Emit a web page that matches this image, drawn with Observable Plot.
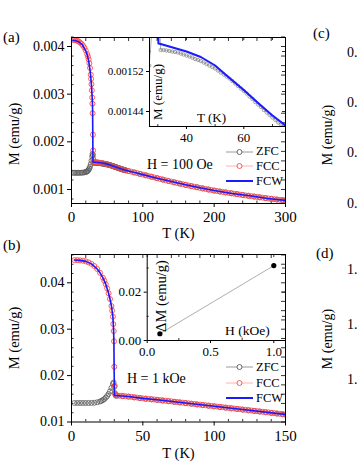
<!DOCTYPE html>
<html><head><meta charset="utf-8">
<script src="https://cdn.jsdelivr.net/npm/d3@7"></script>
<script src="https://cdn.jsdelivr.net/npm/@observablehq/plot@0.6"></script>
<style>
body{margin:0;background:#fff;}
#fig{position:relative;width:357px;height:462px;overflow:hidden;font-family:"Liberation Serif","Times New Roman",serif;color:#000;background:#fff;}
#fig svg, #fig svg text{font-family:"Liberation Serif","Times New Roman",serif !important;}
.lbl{position:absolute;white-space:nowrap;line-height:1;}
</style></head><body><div id="fig"></div>
<script>
// ---------- Panel (a): H = 100 Oe ----------
const T_zfc_a = [2,4,6,8,10,12,14,16,18,20,21,22,23,24,25,26,27,28,29,29.5,30,30.5,
 31,32,33,34,35,36,37,38,39,40,41,42,43,44,45,46,47,48,49,50,51,52,53,54,55,56,57,58,59,60,61,62,63,64,65,66,67,68,69,70,71,72,73,74,75,76,
 80,88,96,104,112,120,128,136,144,152,160,168,176,184,192,200,208,216,224,232,240,248,256,264,272,280,288,296,300];
const M_zfc_a = [0.00135,0.00135,0.001349,0.001349,0.00135,0.00135,0.001351,0.001354,0.001358,0.001367,
 0.001373,0.001382,0.001395,0.001415,0.00144,0.001478,0.001532,0.001605,0.001695,0.001745,0.00172,0.00163,
 0.001563,0.001563,0.001562,0.001561,0.00156,0.001559,0.001558,0.001556,0.001554,0.001552,
 0.00155,0.001548,0.001545,0.001543,0.001541,0.001538,0.001535,0.001532,0.001529,0.001526,
 0.001522,0.001518,0.001514,0.00151,0.001506,0.001501,0.001496,0.001491,0.001486,0.001481,
 0.001476,0.00147,0.001465,0.001459,0.001454,0.001449,0.001443,0.001438,0.001433,0.001428,
 0.001423,0.001418,0.001414,0.001409,0.001405,0.001401,
 0.001387,0.001357,0.001327,0.001297,0.001267,0.001237,0.001207,0.001178,0.00115,0.001122,
 0.001096,0.00107,0.001046,0.001022,0.000999,0.000977,0.000957,0.000938,0.00092,0.000902,
 0.000884,0.000867,0.000851,0.000835,0.000819,0.000803,0.000789,0.000775,0.000768];
const T_fcc_a = [2,4,6,8,10,12,14,16,18,20,22,23,24,25,26,27,27.5,28,28.5,29,29.3,29.6,30,30.3,30.6,31,32,34,36,38,40,
 44,48,52,56,60,64,68,72,76,80,84,88,92,96,100,104,108,112,116,120,124,128,132,136,140,144,148,152,156,160,
 164,168,172,176,180,184,188,192,196,200,204,208,212,216,220,224,228,232,236,240,244,248,252,256,260,264,268,272,276,280,284,288,292,296,300];
const M_fcc_a = [0.00414,0.004138,0.004132,0.004122,0.004106,0.004085,0.004058,0.004022,0.003975,0.003915,
 0.00384,0.00379,0.00373,0.00365,0.00355,0.00341,0.00332,0.00321,0.00308,0.00293,0.0028,0.0026,0.00215,0.00182,0.00163,0.00158,
 0.001578,0.001574,0.00157,0.001565,0.00156,
 0.001551,0.001538,0.00152,0.0015,0.00148,0.00146,0.00144,0.00142,0.001402,0.001388,
 0.001373,0.001358,0.001343,0.001328,0.001313,0.001298,0.001283,0.001268,0.001253,0.001238,
 0.001223,0.001208,0.001193,0.001179,0.001165,0.001151,0.001137,0.001123,0.00111,0.001097,
 0.001084,0.001071,0.001059,0.001047,0.001035,0.001023,0.001011,0.001,0.000989,0.000978,
 0.000968,0.000958,0.000948,0.000939,0.00093,0.000921,0.000912,0.000903,0.000894,0.000885,
 0.000876,0.000868,0.00086,0.000852,0.000844,0.000836,0.000828,0.00082,0.000812,0.000804,
 0.000797,0.00079,0.000783,0.000776,0.000769];
const T_fcw_a = [2,5,10,15,20,22,24,26,27,28,29,29.5,29.8,30,30.2,31,34,40,45,50,55,60,65,70,75,80,90,100,120,140,160,180,200,225,250,275,300];
const M_fcw_a = [0.00413,0.004125,0.0041,0.00404,0.00391,0.00383,0.0037,0.0035,0.00336,0.00318,0.00292,0.00275,0.0022,0.00168,0.001576,
 0.001575,0.00157,0.00156,0.001549,0.001532,0.001507,0.001483,0.001457,0.001432,0.00141,0.00139,0.00135,0.001312,0.001237,0.001166,
 0.001098,0.001036,0.000978,0.000916,0.000867,0.000812,0.00077];

// ---------- Panel (b): H = 1 kOe ----------
const T_zfc_b = [2,4,6,8,10,12,14,16,18,20,21,22,23,24,25,26,27,28,29,29.5,30,30.5,31,
 32,36,40,44,48,52,56,60,64,68,72,76,80,84,88,92,96,100,104,108,112,116,120,124,128,132,136,140,144,148,150];
const M_zfc_b = [0.0141,0.0141,0.0141,0.0141,0.0141,0.0141,0.01411,0.01415,0.01424,0.01442,
 0.01455,0.01472,0.01495,0.01525,0.0156,0.01605,0.0166,0.01735,0.0182,0.0185,0.0176,0.0162,0.01568,
 0.01566,0.01555,0.01545,0.01529,0.01513,0.01499,0.01487,0.01475,0.01461,0.01447,0.01433,0.01419,0.01405,0.01391,0.01377,
 0.01363,0.01349,0.01335,0.01321,0.01307,0.01293,0.01279,0.01265,0.01251,0.01237,0.01223,0.01209,0.01195,0.0118,0.01165,0.01157];
const T_fcc_b = [2,4,6,8,10,12,14,16,18,20,22,23,24,25,26,27,28,28.5,29,29.3,29.6,29.8,30,30.3,30.6,31,
 32,34,36,38,40,42,44,46,48,50,52,54,56,58,60,62,64,66,68,70,72,74,76,78,80,82,84,86,88,90,92,94,96,98,100,
 102,104,106,108,110,112,114,116,118,120,122,124,126,128,130,132,134,136,138,140,142,144,146,148,150];
const M_fcc_b = [0.0449,0.04488,0.04484,0.04476,0.04462,0.0444,0.04408,0.04362,0.04298,0.04215,
 0.0411,0.04045,0.0397,0.0388,0.03775,0.0365,0.035,0.034,0.0327,0.0311,0.0296,0.0274,0.0219,0.0178,0.016,0.0158,
 0.01572,0.01566,0.0156,0.01555,0.0155,0.01542,0.01534,0.01526,0.01518,0.0151,
 0.01504,0.01498,0.01492,0.01486,0.0148,0.01473,0.01466,0.01459,0.01452,0.01445,
 0.01438,0.01431,0.01424,0.01417,0.0141,0.01403,0.01396,0.01389,0.01382,0.01375,
 0.01368,0.01361,0.01354,0.01347,0.0134,0.01333,0.01326,0.01319,0.01312,0.01305,
 0.01298,0.01291,0.01284,0.01277,0.0127,0.01263,0.01256,0.01249,0.01242,0.01235,
 0.01228,0.01221,0.01214,0.01207,0.012,0.01192,0.01185,0.01177,0.0117,0.01162];
const T_fcw_b = [2,6,10,14,18,20,22,24,26,27,28,29,29.4,29.7,29.9,30.1,31,40,50,60,80,100,120,150];
const M_fcw_b = [0.0449,0.04484,0.04462,0.04408,0.04298,0.04215,0.0411,0.0397,0.03775,0.0365,0.035,0.0327,0.0305,0.0275,0.021,0.0157,
 0.0157,0.0155,0.0151,0.0148,0.0141,0.0134,0.0127,0.01162];

// inset (b): ΔM vs H
const H_kOe = [0.1, 1.0];
const dM = [0.0028, 0.031];

// tick values
const xTicksA = [0,100,200,300], yTicksA = [0.001,0.002,0.003,0.004];
const xTicksB = [0,50,100,150],  yTicksB = [0.01,0.02,0.03,0.04];
const xTicksIa = [40,60], yTicksIa = [0.00144,0.00152];
const xTicksIb = [0,0.5,1.0], yTicksIb = [0,0.02];

const seriesNames = ["ZFC","FCC","FCW"];
const cZFCdot = "#5a5a5a", cZFCline = "#9a9a9a", cFCCdot = "#ff4a4a", cFCCline = "#ffb0b0", cFCW = "#1a1aff";
const FONT = "Liberation Serif, Times New Roman, serif";

const rows = (T, M) => T.map((t, i) => ({T: t, M: M[i]})).filter(d => d.M !== undefined);
const zfcA = rows(T_zfc_a, M_zfc_a), fccA = rows(T_fcc_a, M_fcc_a), fcwA = rows(T_fcw_a, M_fcw_a);
const zfcB = rows(T_zfc_b, M_zfc_b), fccB = rows(T_fcc_b, M_fcc_b), fcwB = rows(T_fcw_b, M_fcw_b);
const dmRows = H_kOe.map((h, i) => ({H: h, dM: dM[i]}));

function range(a, b, s) { const out = []; for (let v = a; v <= b + s * 1e-6; v += s) out.push(+v.toFixed(8)); return out; }

function frameTicks(xAll, xMinor, yAll, yMinor, fw, fh, major = 4, minor = 2.5) {
  return [
    Plot.ruleX(xAll, {x: d => d, insetBottom: fh - major, stroke: "#000", strokeWidth: 0.8}),
    Plot.ruleX(xMinor, {x: d => d, insetTop: fh - minor, stroke: "#000", strokeWidth: 0.8}),
    Plot.ruleY(yAll, {y: d => d, insetLeft: fw - major, stroke: "#000", strokeWidth: 0.8}),
    Plot.ruleY(yMinor, {y: d => d, insetRight: fw - minor, stroke: "#000", strokeWidth: 0.8})
  ];
}

function mainPlot({zfc, fcc, fcw, xDomain, yDomain, xTicks, yTicks, xMinor, yMinor, yFmt, xFmt, W, H, mL, mR, mT, mB, xLabDy}) {
  const fw = W - mL - mR, fh = H - mT - mB;
  return Plot.plot({
    width: W, height: H, marginLeft: mL, marginRight: mR, marginTop: mT, marginBottom: mB,
    style: {fontFamily: FONT, background: "none", overflow: "visible", color: "#000"},
    x: {domain: xDomain}, y: {domain: yDomain},
    marks: [
      Plot.axisY({ticks: yTicks, tickSize: 4, tickPadding: 3, tickFormat: yFmt, fontSize: 14, fontFamily: FONT, label: null}),
      Plot.axisX({ticks: xTicks, tickSize: 4, tickPadding: 4, tickFormat: xFmt, fontSize: 15, fontFamily: FONT, label: null}),
      Plot.text(["T (K)"], {frameAnchor: "bottom", textAnchor: "middle", lineAnchor: "middle", dy: xLabDy, fontSize: 14.5, fontFamily: FONT}),
      ...frameTicks([...xTicks, ...xMinor], xMinor, [...yTicks, ...yMinor], yMinor, fw, fh),
      Plot.line(zfc, {x: "T", y: "M", stroke: cZFCline, strokeWidth: 0.8, clip: true}),
      Plot.dot(zfc, {x: "T", y: "M", r: 2.5, stroke: cZFCdot, strokeWidth: 0.8, fill: "none", clip: true}),
      Plot.line(fcc, {x: "T", y: "M", stroke: cFCCline, strokeWidth: 0.8, clip: true}),
      Plot.dot(fcc, {x: "T", y: "M", r: 2.5, stroke: cFCCdot, strokeWidth: 0.9, fill: "none", clip: true}),
      Plot.line(fcw, {x: "T", y: "M", stroke: cFCW, strokeWidth: 1.6, clip: true}),
      Plot.frame({stroke: "#000", strokeWidth: 1})
    ]
  });
}

const fig = document.getElementById("fig");
function place(el, left, top) { el.style.position = "absolute"; el.style.left = left + "px"; el.style.top = top + "px"; fig.appendChild(el); return el; }

// main (a)
place(mainPlot({zfc: zfcA, fcc: fccA, fcw: fcwA, xDomain: [0, 300], yDomain: [0.000706, 0.004189],
  xTicks: xTicksA, yTicks: yTicksA, xMinor: range(20, 280, 20).filter(v => v % 100 !== 0),
  yMinor: range(0.0008, 0.0042, 0.0002).filter(v => Math.abs(v * 1000 - Math.round(v * 1000)) > 1e-6),
  yFmt: d => d.toFixed(3), xFmt: d => String(d), W: 300, H: 245, mL: 71, mR: 15, mT: 37, mB: 42, xLabDy: 30}), 0, 0);

// main (b)
place(mainPlot({zfc: zfcB, fcc: fccB, fcw: fcwB, xDomain: [0, 150], yDomain: [0.01, 0.0461],
  xTicks: xTicksB, yTicks: yTicksB, xMinor: range(10, 140, 10).filter(v => v % 50 !== 0),
  yMinor: range(0.012, 0.046, 0.002).filter(v => Math.abs(v * 100 - Math.round(v * 100)) > 1e-6),
  yFmt: d => d.toFixed(2), xFmt: d => String(d), W: 300, H: 217, mL: 71, mR: 15, mT: 9, mB: 40.5, xLabDy: 31}), 0, 245);

// inset (a)
{
  const W = 200, H = 150, mL = 49, mR = 15, mT = 37, mB = 24, fw = W - mL - mR, fh = H - mT - mB;
  place(Plot.plot({
    width: W, height: H, marginLeft: mL, marginRight: mR, marginTop: mT, marginBottom: mB,
    style: {fontFamily: FONT, background: "none", overflow: "visible"},
    x: {domain: [27.1, 74.55]}, y: {domain: [0.00141, 0.001588]},
    marks: [
      Plot.axisY({ticks: yTicksIa, tickSize: 3, tickPadding: 3, tickFormat: d => d.toFixed(5), fontSize: 11, fontFamily: FONT, label: null}),
      Plot.axisX({ticks: xTicksIa, tickSize: 3, tickPadding: 3, tickFormat: d => String(d), fontSize: 13, fontFamily: FONT, label: null}),
      ...frameTicks([...xTicksIa, 30, 50, 70], [30, 50, 70], [...yTicksIa, 0.00148, 0.00156], [0.00148, 0.00156], fw, fh, 3, 2),
      Plot.line(zfcA, {x: "T", y: "M", stroke: cZFCline, strokeWidth: 0.8, clip: true}),
      Plot.dot(zfcA, {x: "T", y: "M", r: 1.7, stroke: "#808080", strokeWidth: 0.7, fill: "none", clip: true}),
      Plot.line(fcwA, {x: "T", y: "M", stroke: cFCW, strokeWidth: 2, clip: true}),
      Plot.text(["T (K)"], {frameAnchor: "bottom", textAnchor: "middle", lineAnchor: "middle", dx: -6, dy: -9, fontSize: 13, fontFamily: FONT}),
      Plot.frame({stroke: "#000", strokeWidth: 1})
    ]
  }), 100, 0);
}

// inset (b)
{
  const W = 200, H = 115, mL = 46.7, mR = 15, mT = 9, mB = 20, fw = W - mL - mR, fh = H - mT - mB;
  place(Plot.plot({
    width: W, height: H, marginLeft: mL, marginRight: mR, marginTop: mT, marginBottom: mB,
    style: {fontFamily: FONT, background: "none", overflow: "visible"},
    x: {domain: [0, 1.0924]}, y: {domain: [0, 0.0356]},
    marks: [
      Plot.axisY({ticks: yTicksIb, tickSize: 3, tickPadding: 3, tickFormat: d => d.toFixed(2), fontSize: 13, fontFamily: FONT, label: null}),
      Plot.axisX({ticks: xTicksIb, tickSize: 3, tickPadding: 3, tickFormat: d => d.toFixed(1), fontSize: 13, fontFamily: FONT, label: null}),
      ...frameTicks([...xTicksIb, 0.25, 0.75], [0.25, 0.75], [...yTicksIb, 0.01, 0.03], [0.01, 0.03], fw, fh, 3, 2),
      Plot.line(dmRows, {x: "H", y: "dM", stroke: "#999", strokeWidth: 0.8}),
      Plot.dot(dmRows, {x: "H", y: "dM", r: 2.6, fill: "#000", stroke: "none"}),
      Plot.text(["H (kOe)"], {frameAnchor: "bottom", textAnchor: "middle", lineAnchor: "middle", dx: 31, dy: -10, fontSize: 13.5, fontFamily: FONT}),
      Plot.frame({stroke: "#000", strokeWidth: 1})
    ]
  }), 100, 245);
}

// legends (inside the main frames)
function legend(left, top, rowH) {
  const box = document.createElement("div");
  box.className = "lbl";
  seriesNames.forEach((name, i) => {
    const row = document.createElement("div");
    row.style.cssText = `position:absolute;left:0;top:${i * rowH}px;height:12px;display:flex;align-items:center;font-size:12.5px;`;
    const sym = i === 0 ? `<line x1="0" y1="6" x2="27" y2="6" stroke="${cZFCline}" stroke-width="1"/><circle cx="13.5" cy="6" r="2.5" fill="#fff" stroke="${cZFCdot}" stroke-width="0.9"/>`
      : i === 1 ? `<line x1="0" y1="6" x2="27" y2="6" stroke="${cFCCline}" stroke-width="1"/><circle cx="13.5" cy="6" r="2.5" fill="#fff" stroke="${cFCCdot}" stroke-width="0.9"/>`
      : `<line x1="0" y1="6" x2="27" y2="6" stroke="${cFCW}" stroke-width="2"/>`;
    row.innerHTML = `<svg width="28" height="12" style="display:block">${sym}</svg><span style="margin-left:2px">${name}</span>`;
    box.appendChild(row);
  });
  return place(box, left, top);
}
legend(226, 145.5, 14.7);
legend(226, 361.3, 15.5);

function label(text, left, cy, size, extra = "") {
  const d = document.createElement("div");
  d.className = "lbl"; d.textContent = text;
  d.style.cssText += `font-size:${size}px;left:${left}px;top:${cy - size / 2}px;${extra}`;
  fig.appendChild(d); return d;
}
function vlabel(text, cx, cy, size) {
  const d = document.createElement("div");
  d.className = "lbl"; d.textContent = text;
  d.style.cssText += `font-size:${size}px;left:${cx}px;top:${cy}px;transform:translate(-50%,-50%) rotate(-90deg);`;
  fig.appendChild(d); return d;
}
// axis titles
vlabel("M (emu/g)", 13.5, 134, 14.5);
vlabel("M (emu/g)", 13.5, 338, 14.5);
vlabel("M (emu/g)", 156.5, 91.5, 13);
vlabel("ΔM (emu/g)", 161, 296, 14.5);
// annotations and panel letters
label("H = 100 Oe", 147, 165, 14);
label("H = 1 kOe", 127, 379, 14);
label("(a)", 3, 37, 15);
label("(b)", 3, 245, 15);
label("(c)", 313, 33, 15);
label("(d)", 316, 253, 15);
vlabel("M (emu/g)", 328, 135, 14);
vlabel("M (emu/g)", 328, 339, 14);
[53, 103.3, 153.3, 204].forEach(y => label("0.", 347, y, 14));
[270, 325, 380].forEach(y => label("1.", 347, y, 14));
</script></body></html>
